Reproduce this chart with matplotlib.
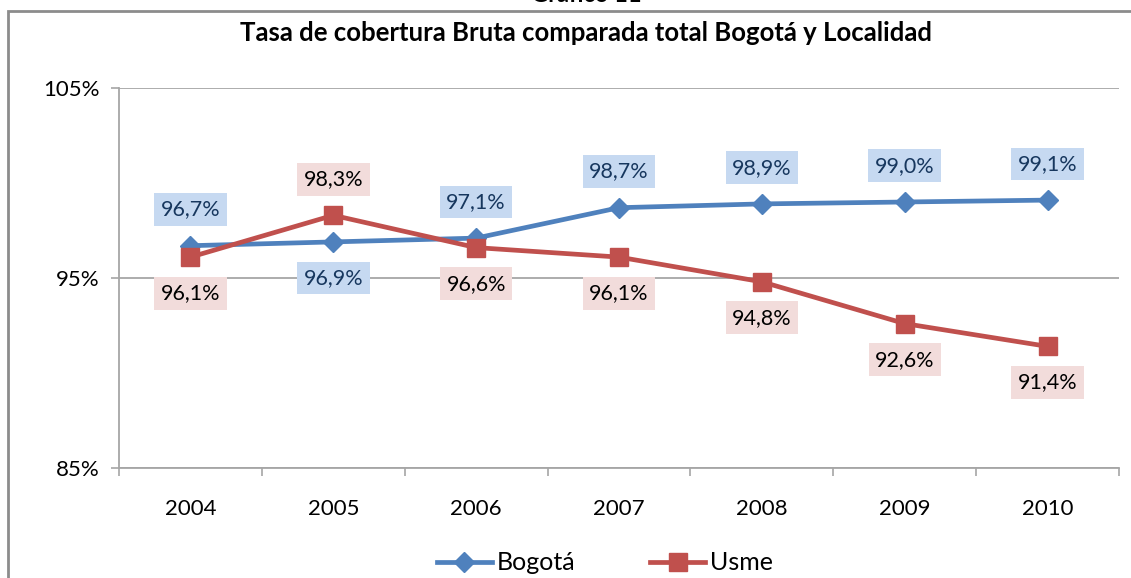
import numpy as np
import matplotlib
matplotlib.use("Agg")
import matplotlib.pyplot as plt
from matplotlib.patches import Rectangle

plt.rcParams['font.family'] = ['Lato', 'DejaVu Sans']

## ===== Data ===== ##

years = ['2004', '2005', '2006', '2007', '2008', '2009', '2010']
bogota = [96.7, 96.9, 97.1, 98.7, 98.9, 99.0, 99.1]
usme = [96.1, 98.3, 96.6, 96.1, 94.8, 92.6, 91.4]
# label side: +1 above, -1 below
bogota_side = [1, -1, 1, 1, 1, 1, 1]
usme_side = [-1, 1, -1, -1, -1, -1, -1]

title = 'Tasa de cobertura Bruta comparada total Bogotá y Localidad'

## ================ ##

BLUE = '#4f81bd'
RED = '#c0504d'
GRID = '#a6a6a6'

fig = plt.figure(figsize=(11.31, 5.78), dpi=100)

# outer chart frame (runs off the right and bottom edges)
fig.patches.append(Rectangle((8 / 1131, -0.05), 1.1, 1 - 11 / 578 + 0.05,
                             transform=fig.transFigure, fill=False,
                             edgecolor='#8c8c8c', linewidth=2))
fig.text(0.518, 1 + 6 / 578, 'Gráfico 11', ha='center', va='center',
         fontsize=17, fontweight='bold')
fig.text(0.518, 1 - 33 / 578, title, ha='center', va='center',
         fontsize=18.5, fontweight='bold')

ax = fig.add_axes([119 / 1131, 1 - 468 / 578, (1119 - 119) / 1131, 380 / 578])
x = np.arange(len(years))

ax.plot(x, bogota, color=BLUE, lw=3.4, marker='D', ms=10, label='Bogotá', zorder=3)
ax.plot(x, usme, color=RED, lw=3.4, marker='s', ms=13, label='Usme', zorder=4)

for xi, v, s in zip(x, bogota, bogota_side):
    ax.annotate(f'{v:.1f}%'.replace('.', ','), (xi, v), xytext=(0, 26 * s),
                textcoords='offset points', ha='center', va='center',
                fontsize=15.5, color='#17375e', zorder=5,
                bbox=dict(boxstyle='square,pad=0.3', fc='#c6d9f1', ec='none'))
for xi, v, s in zip(x, usme, usme_side):
    ax.annotate(f'{v:.1f}%'.replace('.', ','), (xi, v), xytext=(0, 26 * s),
                textcoords='offset points', ha='center', va='center',
                fontsize=15.5, color='black', zorder=5,
                bbox=dict(boxstyle='square,pad=0.3', fc='#f2dcdb', ec='none'))

ax.set_xlim(-0.5, len(years) - 0.5)
ax.set_ylim(85, 105)
ax.set_yticks([85, 95, 105])
ax.set_yticklabels(['85%', '95%', '105%'], fontsize=16)
ax.yaxis.grid(True, color=GRID, lw=1.3)
ax.set_xticks(x)
ax.set_xticklabels(years, fontsize=16)
ax.set_xticks(np.arange(len(years) + 1) - 0.5, minor=True)
ax.tick_params(axis='x', which='major', length=0, pad=22)
ax.tick_params(axis='x', which='minor', length=6, color=GRID, width=1.2)
ax.tick_params(axis='y', length=6, color=GRID, width=1.2, pad=8)
for side in ['top', 'right']:
    ax.spines[side].set_visible(False)
for side in ['left', 'bottom']:
    ax.spines[side].set_color(GRID)
    ax.spines[side].set_linewidth(1.3)

fig.legend(loc='center', bbox_to_anchor=(0.535, 1 - 563 / 578), ncol=2,
           frameon=False, fontsize=18, handlelength=2.2, columnspacing=3.0,
           handletextpad=0.2)

fig.savefig('out.png', dpi=100)
